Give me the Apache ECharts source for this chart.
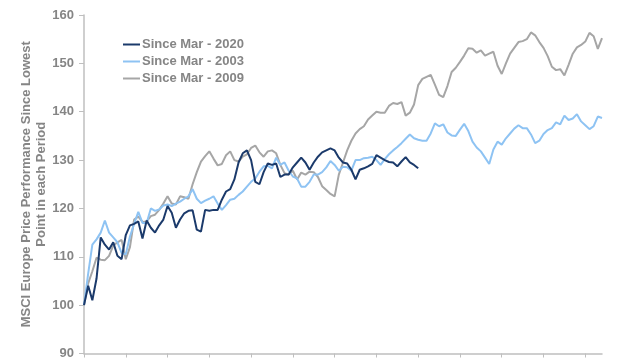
<!DOCTYPE html>
<html>
<head>
<meta charset="utf-8">
<script src="https://cdn.jsdelivr.net/npm/echarts@6/dist/echarts.min.js"></script>
<style>
html,body{margin:0;padding:0;background:#fff;}
#chart{width:640px;height:360px;}
</style>
</head>
<body>
<div id="chart"></div>
<script>
// Weekly index (week 0 = lowest point), ticks every 10 weeks
const weeks = Array.from({length: 125}, (_, i) => i);
const yTicks = [90, 100, 110, 120, 130, 140, 150, 160];

const since2020 = [
 100,104,101,105.5,114,112.5,111.5,113,110.2,109.5,
 114.5,116.5,116.8,117.3,113.8,117.5,116,115,116.5,117.7,
 120.5,119.1,116,117.7,119,119.5,119.6,115.6,115.2,119.7,
 119.5,119.7,119.7,121.8,123.5,124,126,129.5,131.4,132,
 130,125.5,125,127.5,129.3,129,129.3,126.5,127,127,
 128.5,129.5,130.5,129.5,128,129.5,130.7,131.6,132,132.4,
 132,130.5,129.5,129.3,128,126,128,128.3,128.7,129.2,
 131,130.5,130,129.6,129.5,128.7,129.7,130.6,129.5,129,128.3
];

const since2003 = [
 100,106.5,112.5,113.6,115,117.5,115,114,113,110.8,
 110.5,114.2,116.8,119.3,117,117,120,119.5,119.8,120.6,
 120.8,120.5,121,121.4,122,122.5,124,122,121.1,121.6,
 122,122.5,121,119.7,120.7,121.8,122,122.8,123.5,124.5,
 125.5,126.2,127.6,128.7,128.8,128.3,130.5,129,129.5,127.8,
 126.6,126.2,124.5,124.5,125.5,127,127,127.5,128.5,129.8,
 129,127.8,128.6,128.5,127.8,130,130,130.4,130.5,130.7,
 130,129,130.2,131.2,132,132.7,133.5,134.4,135.3,134.5,
 134.2,134,134,135.5,137.6,137,137.4,135.7,135.1,135,
 136.3,137.5,136,133.8,132.6,131.8,130.5,129.2,132.2,133.8,
 133.2,134.5,135.5,136.5,137.2,136.6,136.6,135.3,133.5,134,
 135.4,136.2,136.6,137.8,137.4,139.2,138.3,138.6,139.5,138,
 137.2,136.4,137,139,138.7
];

const since2009 = [
 100,104.5,107,109.8,109.4,109.3,110.2,112.3,113,113.5,
 109.5,112,117.7,118.3,117.2,117.3,118.4,118.7,119.7,121,
 122.5,121,120.8,122.5,122.3,122,125,127.5,129.7,130.8,
 131.8,130.3,128.9,129.2,131,131.8,130,129.7,130.7,131.2,
 132.5,133,131.6,130.7,131.8,132,131.4,129,127.3,127,
 127.8,126,127.4,127,127.6,127.5,126.5,124.6,123.8,123,
 122.5,127,129.5,132,134,135.5,136.4,137,138.4,139.2,
 140,139.8,139.8,141.2,141.8,141.6,142,139.2,139.8,141.5,
 145.5,146.8,147.2,147.6,145.6,143.5,143,145.3,148.2,149.1,
 150.3,151.6,153.1,153,152.2,152.7,151.6,152,152.4,149.5,
 147.8,150,152,153.2,154.4,154.6,155,156.4,155.8,154.4,
 153.2,151.5,149.3,148.6,148.8,147.5,149.7,152,153.3,153.8,
 154.5,156.3,155.6,153,155.2
];

const seriesNames = ['Since Mar - 2020', 'Since Mar - 2003', 'Since Mar - 2009'];
const colors = ['#1b3a6b', '#8ec3f3', '#a6a6a6'];
const yTitle = 'MSCI Europe Price Performance Since Lowest\nPoint in each Period';

const chart = echarts.init(document.getElementById('chart'), null, {renderer: 'canvas'});
const font = '"Liberation Sans", Arial, sans-serif';
chart.setOption({
  animation: false,
  backgroundColor: '#ffffff',
  color: colors,
  grid: {left: 84, right: 38, top: 15, bottom: 6, containLabel: false},
  legend: {
    orient: 'vertical',
    left: 118, top: 33,
    itemWidth: 17, itemHeight: 2, itemGap: 4,
    icon: 'rect',
    textStyle: {color: '#858585', fontSize: 13, fontWeight: 'bold', fontFamily: font, padding: [0,0,0,-3]},
    data: seriesNames
  },
  xAxis: {
    type: 'category',
    data: weeks,
    boundaryGap: false,
    axisLine: {lineStyle: {color: '#bfbfbf', width: 1.5}},
    axisTick: {show: true, interval: 9, length: 4, lineStyle: {color: '#bfbfbf'}},
    axisLabel: {show: false},
    splitLine: {show: false}
  },
  yAxis: {
    type: 'value',
    min: yTicks[0], max: yTicks[yTicks.length - 1], interval: 10,
    name: yTitle,
    nameLocation: 'middle',
    nameRotate: 90,
    nameGap: 35,
    nameMoveOverlap: false,
    nameTextStyle: {color: '#858585', fontSize: 13, fontWeight: 'bold', fontFamily: font, lineHeight: 15, align: 'center'},
    axisLine: {show: true, lineStyle: {color: '#bfbfbf', width: 1.5}},
    axisTick: {show: true, length: 5, lineStyle: {color: '#bfbfbf'}},
    axisLabel: {color: '#858585', fontSize: 13, fontWeight: 'bold', fontFamily: font, margin: 10},
    splitLine: {show: false}
  },
  series: [
    {name: seriesNames[0], type: 'line', data: since2020, showSymbol: false, lineStyle: {width: 2}, z: 3},
    {name: seriesNames[1], type: 'line', data: since2003, showSymbol: false, lineStyle: {width: 2}, z: 2},
    {name: seriesNames[2], type: 'line', data: since2009, showSymbol: false, lineStyle: {width: 2}, z: 1}
  ]
});
</script>
</body>
</html>
